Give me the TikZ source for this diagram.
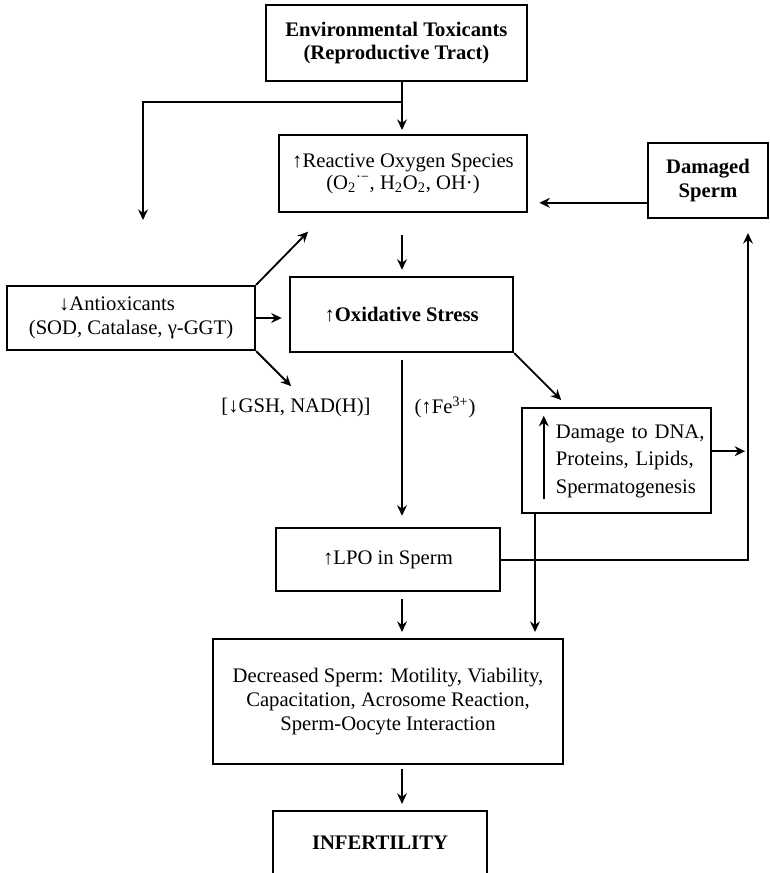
\documentclass[tikz,border=0pt]{standalone}
\usepackage{fontspec}
\setmainfont{Liberation Serif}
\usetikzlibrary{arrows.meta}

\begin{document}
\begin{tikzpicture}[
    box/.style={
        draw,
        line width=1.6pt,
        align=center,
        inner sep=4pt,
        font=\fontsize{14.7}{16.8}\selectfont
    },
    boldbox/.style={
        box,
        font=\fontsize{14.7}{16.8}\selectfont\bfseries
    },
    tag/.style={
        font=\fontsize{14.7}{16.8}\selectfont
    },
    arrow/.style={
        -{Stealth[length=7.5pt,width=7pt,inset=2.5pt]},
        line width=1.3pt
    }
]

\useasboundingbox (0,0) rectangle (19.225,-21.825);

% Source of the chain
\node[boldbox, minimum width=6.525cm, minimum height=1.9cm] (toxic) at (9.91,-1.075)
{Environmental Toxicants\\(Reproductive Tract)};

% Second row
\node[box, minimum width=6.2cm, minimum height=1.925cm,
      font=\fontsize{14.7}{15.6}\selectfont] (ros) at (10.075,-4.34)
{↑Reactive Oxygen Species\\(O\textsubscript{2}\textsuperscript{·−}, H\textsubscript{2}O\textsubscript{2}, OH·)};

\node[boldbox, minimum width=3cm, minimum height=1.875cm] (damaged) at (17.7,-4.51)
{Damaged\\Sperm};

% Third row
\node[box, minimum width=6.2cm, minimum height=1.6cm] (antiox) at (3.275,-7.95)
{↓Antioxicants\hspace*{0.7cm}\\(SOD, Catalase, γ-GGT)};

\node[boldbox, minimum width=5.575cm, minimum height=1.875cm] (stress) at (10.04,-7.86)
{↑Oxidative Stress};

% Side labels
\node[tag] (gsh) at (7.4,-10.18) {[↓GSH, NAD(H)]};
\node[tag] (iron) at (11.125,-10.18) {(↑Fe\textsuperscript{3+})};

\node[box, minimum width=4.725cm, minimum height=2.625cm, text width=4.525cm,
      inner xsep=0.1cm, align=left, font=\fontsize{14.7}{19.6}\selectfont] (damage) at (15.41,-11.51)
{\hspace*{0.75cm}\begin{tabular}{@{}l@{}}Damage to DNA,\\Proteins, Lipids,\\Spermatogenesis\end{tabular}};

% Lower boxes
\node[box, minimum width=5.6cm, minimum height=1.575cm] (lpo) at (9.7,-13.99)
{↑LPO in Sperm};

\node[box, minimum width=8.75cm, minimum height=3.125cm] (decreased) at (9.7,-17.54)
{Decreased Sperm: Motility, Viability,\\Capacitation, Acrosome Reaction,\\Sperm-Oocyte Interaction};

\node[boldbox, minimum width=5.35cm, minimum height=1.6cm] (infert) at (9.5,-21.075)
{INFERTILITY};

% Helper points
\coordinate (split) at (10.05,-2.55);
\coordinate (leftdrop) at (3.575,-5.5);
\coordinate (back) at ([yshift=-0.56cm]damaged.west);
\coordinate (riser) at ([xshift=1cm]damaged.south);
\coordinate (lift) at ([yshift=0.23cm]damage.east);
\coordinate (dfoot) at ([xshift=-2.035cm]damage.south);

% Main column
\draw[arrow, shorten >=0.1cm] (toxic.south -| split) -- (ros.north -| split);
\draw[arrow] (split) -| (leftdrop);
\draw[arrow, shorten <=0.55cm, shorten >=0.15cm] (ros.south -| split) -- (stress.north -| split);
\draw[arrow, shorten <=0.18cm, shorten >=0.28cm] (stress.south -| split) -- (lpo.north -| split);
\draw[arrow, shorten <=0.175cm, shorten >=0.15cm] (lpo.south -| split) -- (decreased.north -| split);
\draw[arrow, shorten <=0.1cm, shorten >=0.15cm] (decreased.south -| split) -- (infert.north -| split);

% Antioxidant branches
\draw[arrow] (antiox.north east) -- ++(1.3,1.33);
\draw[arrow, shorten >=0.18cm] (antiox.east) -- (antiox.east -| stress.west);
\draw[arrow] (antiox.south east) -- ++(0.875,-0.875);

% Damage loop
\draw[arrow] (stress.south east) -- ++(1.175,-1.175);
\draw[arrow, line width=1.1pt] ([xshift=0.575cm,yshift=0.375cm]damage.south west)
    -- ([xshift=0.575cm,yshift=-0.225cm]damage.north west);
\draw[arrow, shorten >=2pt] (lift) -- (lift -| riser);
\draw[arrow, shorten >=0.35cm] (lpo.east) -| (riser);
\draw[arrow, shorten >=0.28cm] (back) -- (back -| ros.east);
\draw[arrow, shorten >=0.15cm] (dfoot) -- (dfoot |- decreased.north);

\end{tikzpicture}
\end{document}
